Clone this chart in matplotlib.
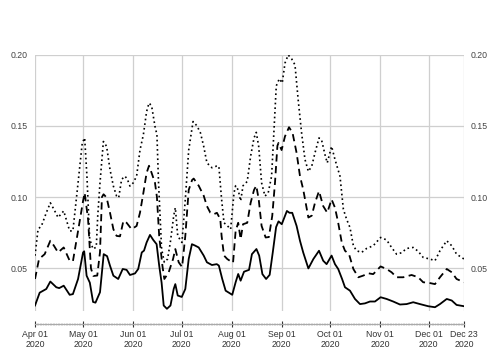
import matplotlib
matplotlib.use("Agg")
import matplotlib.pyplot as plt
from matplotlib.ticker import FixedLocator, MultipleLocator

# day offsets from 2020-04-01
solid_days = [0, 2.9, 7, 9.5, 13.2, 15, 17.8, 21.5, 23.5, 26.7, 29.8, 30.5, 32, 34, 36, 37.5, 40.3, 42.6,
              44.7, 46.5, 48.6, 51.6, 54.4, 56.8, 58.9, 62, 64, 66.2, 67.6, 69.2, 71.3, 73.3, 75.4, 77,
              78.5, 79.8, 81.8, 84, 86, 87, 88.5, 91, 93.2, 95.3, 97.3, 99.3, 101.5, 104.6, 106.6, 109.7,
              112.7, 114, 116.1, 118.2, 120.2, 122.3, 124.4, 126, 127.5, 129.6, 132.7, 134.5, 137.3, 139,
              141, 143.3, 145.5, 147.4, 149.5, 151, 153, 156.2, 157.8, 159.5, 162.2, 164.3, 166.3, 169.5,
              172.6, 176.1, 178.7, 180.8, 183.9, 186, 188, 190.4, 192.2, 195.3, 198.4, 201.5, 204.6,
              207.7, 210.8, 214.3, 218, 222.1, 226.3, 230.4, 234.5, 238.7, 243.8, 248, 251.1, 255.3,
              258.4, 261.4, 266]
solid_vals = [0.024, 0.033, 0.0356, 0.0408, 0.0368, 0.0362, 0.0379, 0.0315, 0.032, 0.0426, 0.0612, 0.062,
              0.0449, 0.040, 0.0265, 0.026, 0.0333, 0.060, 0.0586, 0.0519, 0.0449, 0.0426, 0.0496, 0.049,
              0.0454, 0.0465, 0.0496, 0.0612, 0.0625, 0.0682, 0.0735, 0.070, 0.067, 0.052, 0.040, 0.024,
              0.0217, 0.024, 0.0356, 0.039, 0.031, 0.030, 0.0356, 0.0566, 0.067, 0.066, 0.0647, 0.059,
              0.0543, 0.0524, 0.053, 0.052, 0.0426, 0.0344, 0.033, 0.0315, 0.0403, 0.0461, 0.0414, 0.0477,
              0.049, 0.060, 0.0636, 0.059, 0.046, 0.0426, 0.0455, 0.061, 0.079, 0.083, 0.081, 0.0903,
              0.089, 0.089, 0.0798, 0.0694, 0.0612, 0.050, 0.0566, 0.0624, 0.0554, 0.053, 0.059, 0.053,
              0.0496, 0.0426, 0.0368, 0.0344, 0.0286, 0.025, 0.0255, 0.0268, 0.0268, 0.0298, 0.0286,
              0.0268, 0.0247, 0.025, 0.0263, 0.025, 0.0235, 0.0228, 0.025, 0.0286, 0.0275, 0.0244, 0.0235]

dashed_days = [0, 2.5, 6, 9.5, 11.7, 14.3, 17.8, 21.5, 23.5, 26.7, 29.8, 30.8, 32.9, 34.7, 36.2, 38.6, 40.3,
               41.5, 42.5, 44.4, 46.5, 48.6, 50.6, 52.7, 54.8, 56.8, 59.9, 63, 65.1, 67.2, 69.2, 70.7,
               72.3, 74.4, 75.6, 77, 79, 80.2, 82.9, 85.6, 87, 89.1, 91.2, 93.2, 95.3, 97.4, 98.4, 101.5,
               104.6, 106.6, 108.7, 110.8, 112.8, 114.9, 115.7, 117.2, 119.2, 121.3, 122.8, 124.4, 126,
               127.5, 129, 131.6, 133.7, 135.8, 137.2, 138.7, 140.5, 143, 145, 147.1, 148.8, 150.3, 151,
               152.9, 155, 157.5, 159.7, 162.2, 164.3, 166.3, 169.5, 171.6, 173.6, 176.1, 178.7, 181.2,
               183.9, 186, 188, 190.2, 192.2, 194.7, 197.4, 200.5, 203.6, 206.6, 209.7, 214.3, 218,
               221.1, 224.2, 228.3, 233.5, 237.6, 240.7, 243.8, 248, 251.1, 255.3, 258.4, 261.4, 266]
dashed_vals = [0.0426, 0.0566, 0.060, 0.0694, 0.066, 0.0612, 0.0647, 0.0554, 0.055, 0.0763, 0.0973, 0.103,
               0.0845, 0.050, 0.0447, 0.045, 0.0614, 0.100, 0.102, 0.0997, 0.0891, 0.0775, 0.0728,
               0.0725, 0.0833, 0.082, 0.0775, 0.0798, 0.0891, 0.103, 0.117, 0.122, 0.117, 0.110, 0.100,
               0.0728, 0.0519, 0.0426, 0.0473, 0.0566, 0.0636, 0.0543, 0.051, 0.0728, 0.105, 0.112,
               0.113, 0.108, 0.101, 0.0937, 0.0891, 0.088, 0.089, 0.0845, 0.0728, 0.059, 0.0566, 0.055,
               0.054, 0.0763, 0.082, 0.0705, 0.081, 0.082, 0.096, 0.105, 0.108, 0.0985, 0.0798, 0.0717,
               0.072, 0.0868, 0.110, 0.136, 0.138, 0.133, 0.1426, 0.149, 0.145, 0.131, 0.1147, 0.1054,
               0.0857, 0.087, 0.096, 0.1042, 0.0937, 0.0891, 0.0984, 0.0926, 0.082, 0.0682, 0.0624,
               0.060, 0.0496, 0.0438, 0.045, 0.0466, 0.046, 0.0514, 0.0496, 0.0473, 0.0438, 0.0438,
               0.0454, 0.0438, 0.0403, 0.040, 0.039, 0.0438, 0.0496, 0.0473, 0.0426, 0.0403]

dotted_days = [0, 1.9, 4, 7, 9.5, 11.7, 14.3, 17.8, 21.5, 23.5, 26.7, 29.3, 30.8, 32.2, 33.9, 36, 38, 38.9,
               40.3, 42.4, 44.4, 46.5, 48.6, 50.6, 51.9, 53.7, 55.8, 57.3, 58.9, 60.9, 63, 65.1, 67.2,
               69.2, 70.7, 72.3, 74.4, 75.6, 76.6, 78.5, 80.2, 82.2, 83.9, 86, 87, 88.5, 91.1, 93.2, 95.3,
               98, 100.4, 102.6, 104.6, 106.6, 109.7, 112.5, 114, 115.7, 117.2, 119.2, 121.3, 123.4,
               124.4, 126, 127.5, 129, 131.6, 133.7, 135.8, 137.2, 138.7, 140.5, 142.6, 144.6, 146.7,
               148.1, 149.6, 151.5, 153.3, 155, 157, 159.1, 161.2, 163.2, 165.3, 167.4, 169.5, 171.6,
               173.6, 176.1, 177.7, 179.8, 181.2, 183.9, 186, 189.1, 191.2, 193.2, 195.3, 197.4, 199.4,
               202.5, 205.6, 209.7, 214.3, 218, 221.1, 224.2, 227.3, 230.4, 234.5, 237.6, 240.7, 244.9,
               248, 251.1, 255.3, 258.4, 261.4, 266]
dotted_vals = [0.0589, 0.0775, 0.0798, 0.089, 0.096, 0.0915, 0.0857, 0.0903, 0.0763, 0.0763, 0.110, 0.138,
               0.1415, 0.1147, 0.0706, 0.0636, 0.065, 0.0868, 0.110, 0.139, 0.1356, 0.1194, 0.1077,
               0.1007, 0.0996, 0.1124, 0.1147, 0.1124, 0.1077, 0.110, 0.1147, 0.133, 0.1438, 0.160, 0.166,
               0.164, 0.1496, 0.1438, 0.110, 0.0636, 0.0543, 0.0566, 0.0682, 0.0868, 0.0926, 0.0728,
               0.0682, 0.0984, 0.133, 0.153, 0.150, 0.145, 0.1356, 0.124, 0.1206, 0.1217, 0.1217, 0.0984,
               0.082, 0.080, 0.0775, 0.103, 0.108, 0.105, 0.0973, 0.108, 0.111, 0.1287, 0.1415, 0.1454,
               0.1356, 0.110, 0.1007, 0.103, 0.1147, 0.145, 0.178, 0.183, 0.180, 0.194, 0.1997, 0.197,
               0.1927, 0.168, 0.145, 0.1264, 0.118, 0.1217, 0.131, 0.1415, 0.140, 0.1298, 0.124, 0.1356,
               0.1264, 0.1147, 0.0915, 0.0845, 0.0787, 0.0659, 0.0624, 0.0612, 0.064, 0.0659, 0.0717,
               0.070, 0.0647, 0.060, 0.061, 0.064, 0.0647, 0.062, 0.0577, 0.0566, 0.0554, 0.0624, 0.0694,
               0.0659, 0.060, 0.0566]

tick_days = [0, 30, 61, 91, 122, 153, 183, 214, 244, 266]
tick_labels = ["Apr 01\n2020", "May 01\n2020", "Jun 01\n2020", "Jul 01\n2020", "Aug 01\n2020",
               "Sep 01\n2020", "Oct 01\n2020", "Nov 01\n2020", "Dec 01\n2020", "Dec 23\n2020"]
y_ticks = [0.05, 0.10, 0.15, 0.20]
y_labels = ["0.05", "0.10", "0.15", "0.20"]

plt.rcParams['font.family'] = ['Liberation Sans', 'DejaVu Sans']
fig = plt.figure(figsize=(5, 3.5), dpi=100)
ax = fig.add_axes([35/500, 1 - 310.5/350, (464 - 35)/500, (310.5 - 54.5)/350])

ax.plot(solid_days, solid_vals, color='black', lw=1.3, solid_joinstyle='round')
ax.plot(dashed_days, dashed_vals, color='black', lw=1.3, linestyle=(0, (4, 2.5)))
ax.plot(dotted_days, dotted_vals, color='black', lw=1.2, linestyle=(0, (1, 1.8)))

ax.set_xlim(0, 266)
ax.set_ylim(0.0205, 0.20)

ax.set_yticks(y_ticks)
ax.set_yticklabels(y_labels)
ax.xaxis.set_major_locator(FixedLocator(tick_days))
ax.set_xticklabels(tick_labels)
ax.xaxis.set_minor_locator(MultipleLocator(1))

ax.grid(True, which='major', color='#cfcfcf', lw=0.9)
ax.set_axisbelow(True)

for s in ['top', 'left', 'right']:
    ax.spines[s].set_visible(False)
ax.spines['bottom'].set_position(('outward', 9.5))
ax.spines['bottom'].set_color('#aaaaaa')
ax.spines['bottom'].set_linewidth(0.9)

ax.tick_params(axis='y', which='both', length=0, labelleft=True, labelright=True,
               labelsize=6.3, labelcolor='#444444', pad=5)
ax.tick_params(axis='x', which='major', direction='inout', length=5, width=0.8, color='#333333',
               labelsize=6.3, labelcolor='#333333', pad=2)
ax.tick_params(axis='x', which='minor', direction='inout', length=2, width=0.4, color='#aaaaaa')

fig.savefig('out.png', dpi=100)
